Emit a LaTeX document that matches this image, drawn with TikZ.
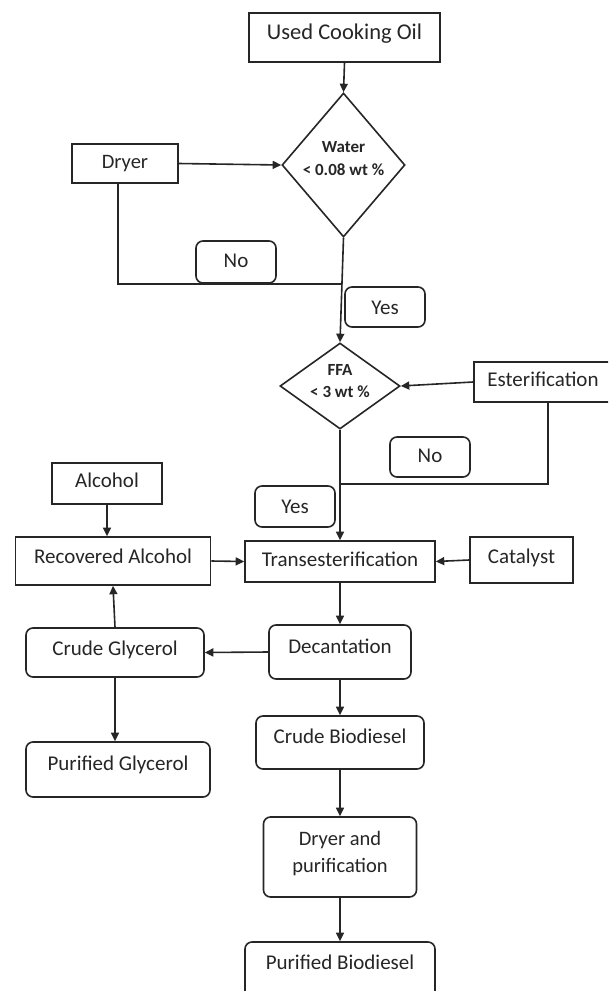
\documentclass[tikz,border=0pt]{standalone}
\usepackage{fontspec}
\setmainfont{Carlito}
\usetikzlibrary{shapes.geometric,arrows.meta}
\begin{document}
\begin{tikzpicture}[x=1pt,y=-1pt,
  every node/.style={font=\fontsize{21}{23}\selectfont, text=black!85},
  base/.style={draw=black!85, line width=1.6pt, inner sep=0pt, text height=14.5pt, text depth=#1},
  base/.default=3pt,
  sq/.style={base=#1},
  rd/.style={base=#1, rounded corners=7pt},
  dia/.style={draw=black!85, diamond, line width=1.6pt, inner sep=0pt},
  dtext/.style={font=\bfseries\fontsize{17}{22.5}\selectfont, align=center, text=black!85},
  mtext/.style={font=\fontsize{20.5}{27}\selectfont, align=center, text=black!85},
  arr/.style={line width=1.6pt, draw=black!85, -{Triangle[length=8.5pt,width=8pt]}},
  ln/.style={line width=1.6pt, draw=black!85}]
\clip (0,0) rectangle (608,991);
\fill[white] (0,0) rectangle (608,991);

% nodes
\node[sq=10.4pt, minimum width=191pt, minimum height=49pt, font=\fontsize{22.5}{25}\selectfont] (uco) at (344.5,37.5) {Used Cooking Oil};
\node[dia, minimum width=123pt, minimum height=144pt,
  label={[dtext,yshift=6.5pt]center:{Water\\< 0.08 wt \%}}] (water) at (343.5,165) {};
\node[sq=4.4pt, minimum width=106pt, minimum height=39pt, font=\fontsize{20.5}{23}\selectfont] (dryer) at (125,163.5) {Dryer};
\node[rd=3.4pt, minimum width=80pt, minimum height=42pt] (no1) at (236,262) {No};
\node[rd=0pt, minimum width=80pt, minimum height=40pt] (yes1) at (385,307) {Yes};
\node[dia, minimum width=120pt, minimum height=86pt,
  label={[dtext,yshift=5pt]center:{FFA\\< 3 wt \%}}] (ffa) at (340,386) {};
\node[sq=5.4pt, minimum width=138pt, minimum height=40pt] (est) at (543,382) {Esterification};
\node[rd=3.4pt, minimum width=80pt, minimum height=40pt] (no2) at (430,457) {No};
\node[rd=1.4pt, minimum width=80pt, minimum height=41pt] (yes2) at (295,506.5) {Yes};
\node[sq=6.4pt, minimum width=110pt, minimum height=41pt] (alcohol) at (107,483.5) {Alcohol};
\node[sq=9.4pt, minimum width=195pt, minimum height=48pt] (rec) at (113,561) {Recovered Alcohol};
\node[sq=4.4pt, minimum width=190pt, minimum height=41pt] (trans) at (340,561.5) {Transesterification};
\node[sq=7.4pt, minimum width=103pt, minimum height=46pt] (cat) at (521.5,560) {Catalyst};
\node[rd=8.4pt, minimum width=178pt, minimum height=49pt] (crudegly) at (115,652.5) {Crude Glycerol};
\node[rd=11.4pt, minimum width=142pt, minimum height=54pt] (decant) at (340,652) {Decantation};
\node[rd=12.4pt, minimum width=184pt, minimum height=55pt] (purgly) at (118,769.5) {Purified Glycerol};
\node[rd=12.4pt, minimum width=168pt, minimum height=53pt] (crudebio) at (340,742.5) {Crude Biodiesel};
\node[rd, minimum width=153pt, minimum height=80pt,
  label={[mtext,yshift=3.5pt]center:{Dryer and\\purification}}] (dp) at (340,857) {};
\node[rd=17.4pt, minimum width=190pt, minimum height=58pt] (purbio) at (340,971) {Purified Biodiesel};

% junctions
\coordinate (j1) at (341,284);
\coordinate (j2) at (340,484);

% connectors
\draw[arr] (uco.south) -- (water.north);
\draw[arr] (dryer.east) -- (water.west);
\draw[ln] ([xshift=-7pt]dryer.south) |- (j1);
\draw[arr] (water.south) -- (ffa.north);
\draw[arr] (est.west) -- (ffa.east);
\draw[ln] ([xshift=5pt]est.south) |- (j2);
\draw[arr] (ffa.south) -- (trans.north);
\draw[arr] (alcohol.south) -- (alcohol.south |- rec.north);
\draw[arr] (rec.east) -- (trans.west);
\draw[arr] (cat.west) -- (trans.east);
\draw[arr] (trans.south) -- (decant.north);
\draw[arr] (decant.west) -- (crudegly.east);
\draw[arr] (crudegly.north) -- (rec.south);
\draw[arr] (crudegly.south) -- (crudegly.south |- purgly.north);
\draw[arr] (decant.south) -- (crudebio.north);
\draw[arr] (crudebio.south) -- (dp.north);
\draw[arr] (dp.south) -- (purbio.north);
\end{tikzpicture}
\end{document}
